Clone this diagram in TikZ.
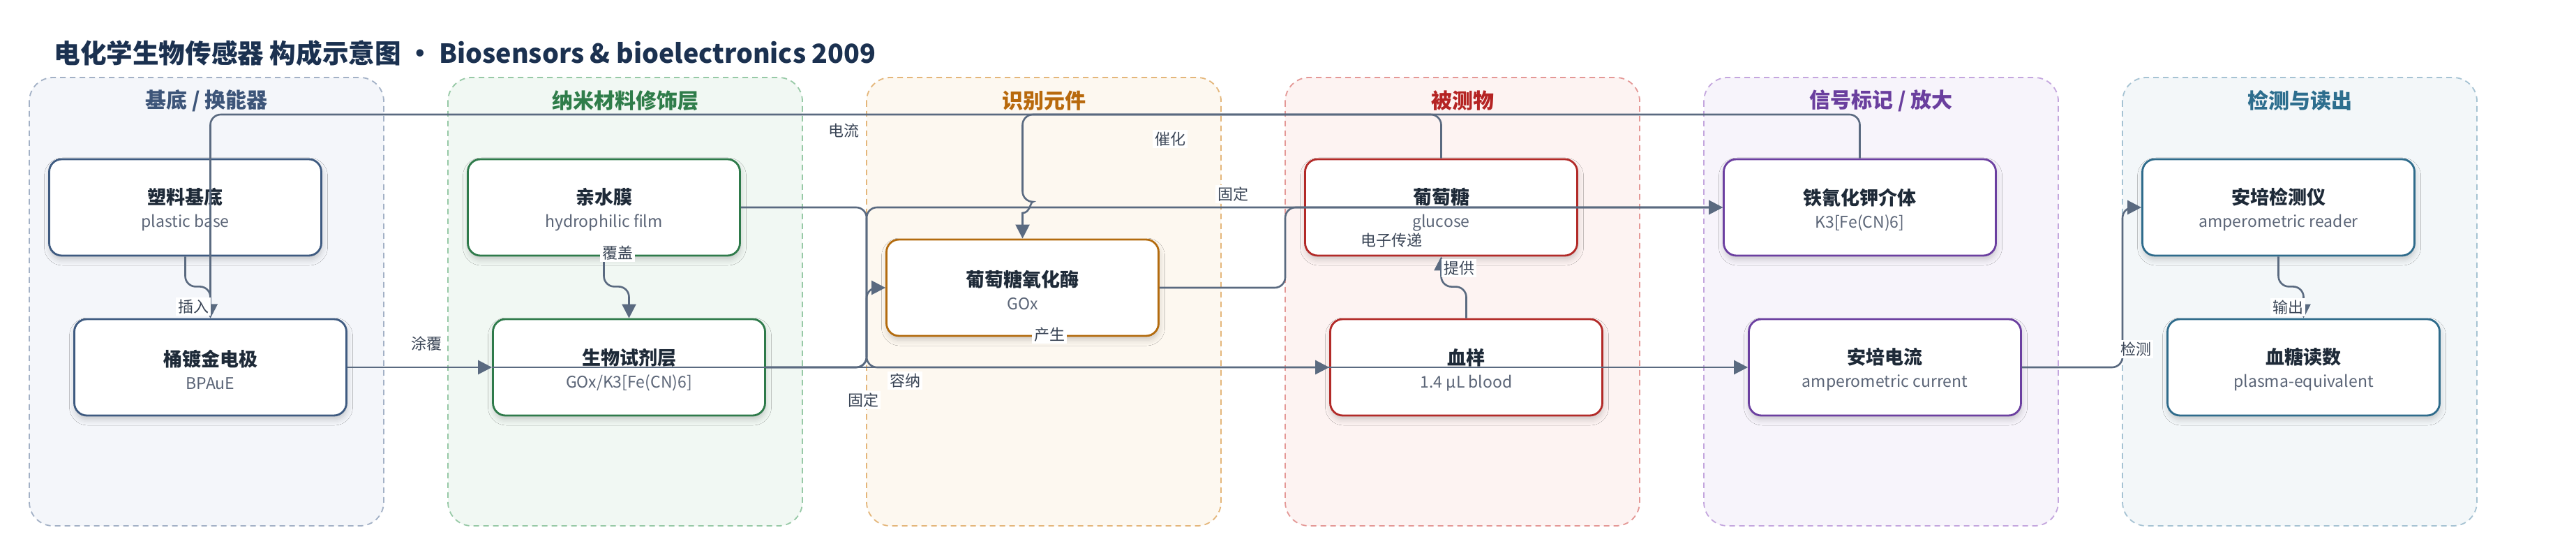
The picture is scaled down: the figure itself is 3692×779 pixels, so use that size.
\documentclass[tikz,border=0pt]{standalone}
\usepackage{fontspec}
\setmainfont{Noto Sans CJK SC}
\usetikzlibrary{arrows.meta,calc,shadows.blur}
\definecolor{edgec}{HTML}{5A6A80}
\definecolor{labc}{HTML}{3A4556}
\definecolor{maintext}{HTML}{1E2A38}
\definecolor{subtext}{HTML}{5B6577}
\definecolor{titlec}{HTML}{1B3150}
\definecolor{cAf}{HTML}{F4F6FA}\definecolor{cAd}{HTML}{A3B1C6}\definecolor{cAt}{HTML}{3D5579}\definecolor{cAn}{HTML}{3E5A80}
\definecolor{cBf}{HTML}{F1F8F3}\definecolor{cBd}{HTML}{97C9A6}\definecolor{cBt}{HTML}{2F7D4A}\definecolor{cBn}{HTML}{2E7A4A}
\definecolor{cCf}{HTML}{FDF8F0}\definecolor{cCd}{HTML}{E4B67A}\definecolor{cCt}{HTML}{B8690C}\definecolor{cCn}{HTML}{B36B0E}
\definecolor{cDf}{HTML}{FDF3F2}\definecolor{cDd}{HTML}{E49896}\definecolor{cDt}{HTML}{B52424}\definecolor{cDn}{HTML}{B22A28}
\definecolor{cEf}{HTML}{F7F4FB}\definecolor{cEd}{HTML}{C4A6DE}\definecolor{cEt}{HTML}{6A3F9E}\definecolor{cEn}{HTML}{6B3FA0}
\definecolor{cFf}{HTML}{F3F7F9}\definecolor{cFd}{HTML}{A6C3D3}\definecolor{cFt}{HTML}{2D6E8E}\definecolor{cFn}{HTML}{2E6B8B}
\newcommand{\boxtxt}[2]{{\fontsize{13.5}{16}\selectfont\bfseries\color{maintext}\rule{0pt}{15pt}#1}\\{\color{subtext}#2}}
\begin{document}
\begin{tikzpicture}[x=0.5pt,y=-0.5pt,
 conn/.style={draw=edgec,line width=1.3pt,rounded corners=7.5pt,-{Triangle[length=10pt,width=10pt]}},
 elabel/.style={fill=white,inner sep=1.5pt,text=labc,font=\fontsize{11}{13}\selectfont},
 box/.style={draw=#1,line width=1.4pt,fill=white,rounded corners=9pt,minimum width=195pt,minimum height=69pt,align=center,inner sep=0pt,font=\fontsize{11.5}{16.5}\selectfont,blur shadow={shadow xshift=0.5pt,shadow yshift=-3pt,shadow blur radius=4pt,shadow opacity=18}},
 cluster/.style 2 args={draw=#1,fill=#2,dash pattern=on 4pt off 3pt,line width=0.9pt,rounded corners=17pt},
 ctitle/.style={font=\fontsize{15}{18}\selectfont\bfseries,text=#1},
]
\fill[white] (0,0) rectangle (3692,779);
\path[use as bounding box] (0,0) rectangle (3692,779);
\node[anchor=west,font=\fontsize{18.8}{22}\selectfont\bfseries,text=titlec,inner sep=0pt] (title) at (77,76) {电化学生物传感器 构成示意图 • Biosensors \& bioelectronics 2009};
% clusters
\path[cluster={cAd}{cAf}] (42,111) rectangle (550,753);
\path[cluster={cBd}{cBf}] (642,111) rectangle (1150,753);
\path[cluster={cCd}{cCf}] (1242,111) rectangle (1750,753);
\path[cluster={cDd}{cDf}] (1842,111) rectangle (2350,753);
\path[cluster={cEd}{cEf}] (2442,111) rectangle (2950,753);
\path[cluster={cFd}{cFf}] (3042,111) rectangle (3550,753);
\node[ctitle=cAt] (tA) at (296,144) {基底 / 换能器};
\node[ctitle=cBt] (tB) at (896,144) {纳米材料修饰层};
\node[ctitle=cCt] (tC) at (1496,144) {识别元件};
\node[ctitle=cDt] (tD) at (2096,144) {被测物};
\node[ctitle=cEt] (tE) at (2696,144) {信号标记 / 放大};
\node[ctitle=cFt] (tF) at (3296,144) {检测与读出};
% nodes
\node[box=cAn] (n1) at (265.5,297) {\boxtxt{塑料基底}{plastic base}};
\node[box=cAn] (n2) at (301.5,526) {\boxtxt{桶镀金电极}{BPAuE}};
\node[box=cBn] (n3) at (865.5,297) {\boxtxt{亲水膜}{hydrophilic film}};
\node[box=cBn] (n4) at (901.5,526) {\boxtxt{生物试剂层}{GOx/K3[Fe(CN)6]}};
\node[box=cCn] (n5) at (1465.5,412) {\boxtxt{葡萄糖氧化酶}{GOx}};
\node[box=cDn] (n6) at (2065.5,297) {\boxtxt{葡萄糖}{glucose}};
\node[box=cDn] (n7) at (2101.5,526) {\boxtxt{血样}{1.4 µL blood}};
\node[box=cEn] (n8) at (2665.5,297) {\boxtxt{铁氰化钾介体}{K3[Fe(CN)6]}};
\node[box=cEn] (n9) at (2701.5,526) {\boxtxt{安培电流}{amperometric current}};
\node[box=cFn] (n10) at (3265.5,297) {\boxtxt{安培检测仪}{amperometric reader}};
\node[box=cFn] (n11) at (3301.5,526) {\boxtxt{血糖读数}{plasma-equivalent}};
% helper coordinates
\coordinate (bus) at (0,164);
\coordinate (jx) at (1242,0);
\coordinate (jx2) at (1842,0);
\coordinate (jx3) at (3042,0);
\coordinate (hop) at (1465.5,297);
% connectors
\draw[conn] (n1.south) -- ++(0,43) -| (n2.north);
\draw[conn] (n2.east) -- (n4.west);
\draw[conn] (n3.south) -- ++(0,43) -| (n4.north);
\draw[conn] (n8.north) |- (n2.north |- bus) -- (n2.north);
\draw[conn] (n6.north) |- (n5.north |- bus) -- ($(hop)+(0,-8)$) [sharp corners] .. controls ($(hop)+(11,-8)$) and ($(hop)+(11,8)$) .. ($(hop)+(0,8)$) -- (n5.north);
\draw[conn] (n3.east) -- (n3.east -| jx) -- (jx |- n7.west) -- (n7.west);
\draw[conn] (n4.east) -- (n4.east -| jx) -- (jx |- n5.west) -- (n5.west);
\draw[conn] (n4.east) -- (n4.east -| jx) -- (jx |- n8.west) -- (n8.west);
\draw[conn] (n4.west) -- (n9.west);
\draw[conn] (n5.east) -- (n5.east -| jx2) -- (jx2 |- n8.west) -- (n8.west);
\draw[conn] (n7.north) -- ++(0,-45) -| (n6.south);
\draw[conn] (n9.east) -- (n9.east -| jx3) -- (jx3 |- n10.west) -- (n10.west);
\draw[conn] (n10.south) -- ++(0,43) -| (n11.north);
% labels
\node[elabel] (l1) at (277,439) {插入};
\node[elabel] (l2) at (611,492) {涂覆};
\node[elabel] (l3) at (885,362) {覆盖};
\node[elabel] (l4) at (1209,187) {电流};
\node[elabel] (l5) at (1677,199) {催化};
\node[elabel] (l6) at (1767,278) {固定};
\node[elabel] (l7) at (1237,573) {固定};
\node[elabel] (l8) at (1297,545) {容纳};
\node[elabel] (l9) at (1504,479) {产生};
\node[elabel] (l10) at (1994,344) {电子传递};
\node[elabel] (l11) at (2091,384) {提供};
\node[elabel] (l12) at (3061,500) {检测};
\node[elabel] (l13) at (3279,440) {输出};
\end{tikzpicture}
\end{document}
